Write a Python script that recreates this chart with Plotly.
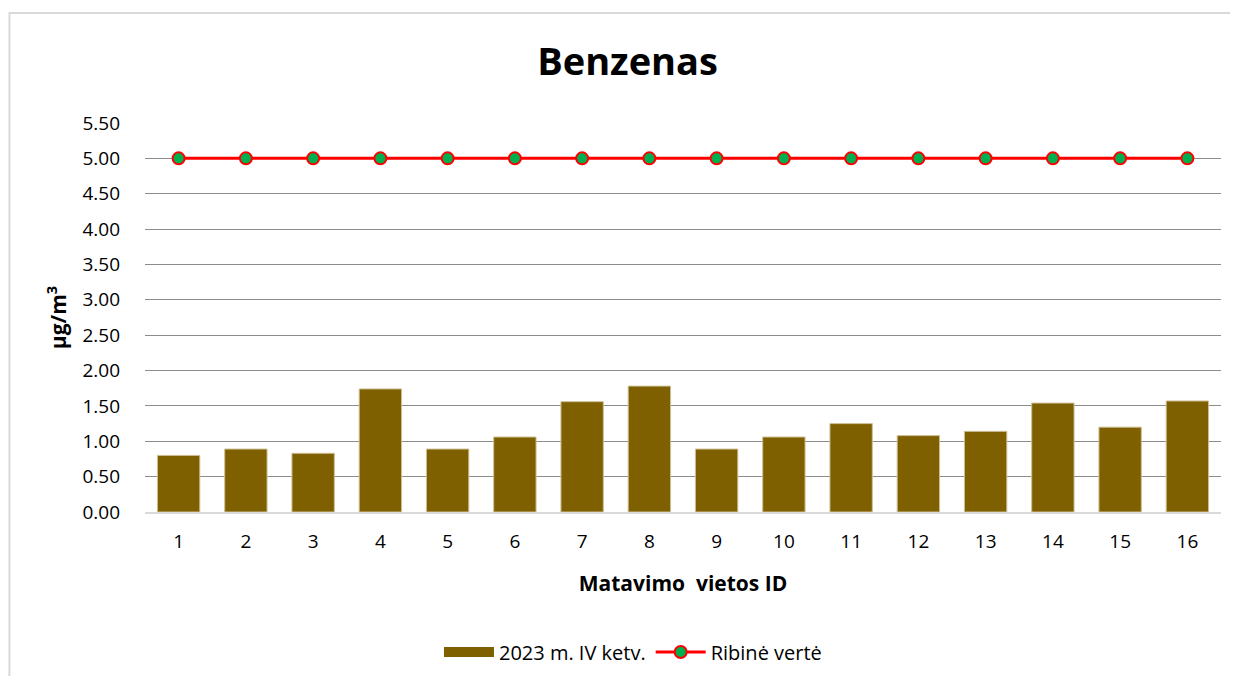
import plotly.graph_objects as go

# Data
sites = [str(i) for i in range(1, 17)]
benzene_2023_q4 = [0.80, 0.89, 0.83, 1.74, 0.89, 1.06, 1.56, 1.78,
                   0.89, 1.06, 1.25, 1.08, 1.14, 1.54, 1.20, 1.57]
limit_value = [5.00] * 16

y_ticks = [0, 0.5, 1, 1.5, 2, 2.5, 3, 3.5, 4, 4.5, 5, 5.5]

FONT = "'Open Sans', Lato, 'Liberation Sans', sans-serif"
BAR_COLOR = "#7F6000"

fig = go.Figure()
fig.add_trace(go.Bar(
    x=sites, y=benzene_2023_q4, name="2023 m. IV ketv.", showlegend=False,
    marker=dict(color=BAR_COLOR, line=dict(color="#CDBF94", width=1)),
))
# legend swatch for the bars (wide rectangle, as in the original)
fig.add_trace(go.Scatter(
    x=[None], y=[None], name="2023 m. IV ketv.", mode="lines",
    line=dict(color=BAR_COLOR, width=12),
))
fig.add_trace(go.Scatter(
    x=sites, y=limit_value, name="Ribinė vertė", mode="lines+markers",
    line=dict(color="#FF0000", width=3),
    marker=dict(color="#00B050", size=12, line=dict(color="#FF0000", width=2)),
))

fig.update_layout(
    width=1222, height=668,
    paper_bgcolor="white", plot_bgcolor="white",
    font=dict(family=FONT, size=19, color="#000000"),
    title=dict(text="<b>Benzenas</b>", x=0.507, xanchor="center", y=0.919, yanchor="middle",
               font=dict(size=38, family=FONT), automargin=False),
    margin=dict(l=137, r=9, t=115, b=164, autoexpand=False),
    bargap=0.37,
    showlegend=True,
    legend=dict(orientation="h", x=0.4535, xanchor="center", y=-0.36, yanchor="middle",
                font=dict(size=20), traceorder="normal", itemwidth=50),
    xaxis=dict(
        type="category", range=[-0.5, 15.5],
        title=dict(text="<b>Matavimo  vietos ID</b>", font=dict(size=21), standoff=24),
        showgrid=False, ticks="", tickfont=dict(size=19), automargin=False,
        ticklabelstandoff=11,
        showline=True, linecolor="#D9D9D9", linewidth=2,
    ),
    yaxis=dict(
        title=dict(text="<b>μg/m<sup>3</sup></b>", font=dict(size=21), standoff=10),
        range=[0, 5.5], tickvals=y_ticks, tickformat=".2f", automargin=False,
        showgrid=True, gridcolor="#8C8C8C", gridwidth=1, ticklabelstandoff=24,
        zeroline=False, ticks="", tickfont=dict(size=19),
    ),
    shapes=[dict(
        type="rect", xref="paper", yref="paper",
        x0=-0.126, x1=1.2, y0=-0.6, y1=1.283,
        line=dict(color="#D9D9D9", width=2), fillcolor="rgba(0,0,0,0)", layer="below",
    )],
)

fig.write_html("out.html")
